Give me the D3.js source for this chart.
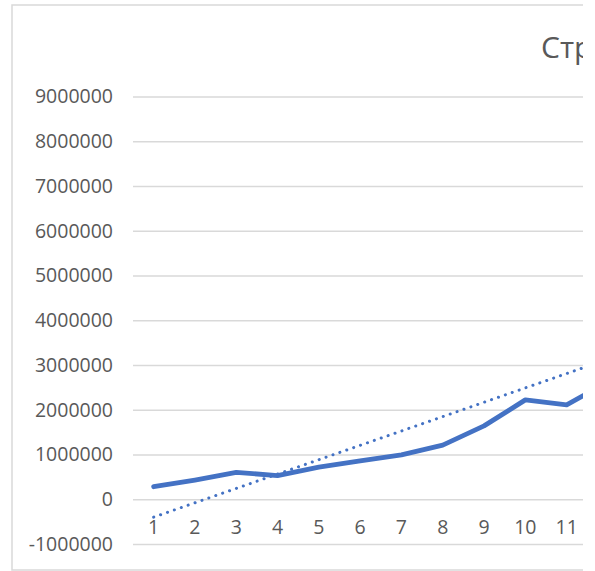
<!DOCTYPE html>
<html>
<head>
<meta charset="utf-8">
<script src="https://cdn.jsdelivr.net/npm/d3@7"></script>
<style>
  body { margin: 0; background: #fff; }
  text { font-family: "Open Sans", sans-serif; fill: #595959; }
</style>
</head>
<body>
<svg id="chart" width="595" height="571"></svg>
<script>
// categories and values (chart is cropped on the right)
var categories = ["1","2","3","4","5","6","7","8","9","10","11","12"];
var values = [280000, 430000, 600000, 530000, 720000, 860000, 990000, 1210000, 1640000, 2220000, 2110000, 2620000];
// linear trend, value at first and last category
var trendEnds = [-400000, 3130000];
var yTicks = [-1000000, 0, 1000000, 2000000, 3000000, 4000000, 5000000, 6000000, 7000000, 8000000, 9000000];
var titleText = "Стр";

var svg = d3.select("#chart"),
    clipRight = 583,
    plotLeft = 133,
    band = 41.3;

svg.append("clipPath").attr("id", "cut")
  .append("rect").attr("x", 0).attr("y", 0).attr("width", clipRight).attr("height", 571);

var g = svg.append("g").attr("clip-path", "url(#cut)");

// chart border
g.append("rect")
    .attr("x", 12).attr("y", 5)
    .attr("width", 900).attr("height", 565)
    .attr("fill", "none")
    .attr("stroke", "#d9d9d9")
    .attr("stroke-width", 1.5);

var x = d3.scaleBand()
    .domain(categories)
    .range([plotLeft, plotLeft + band * categories.length]);

var y = d3.scaleLinear()
    .domain([-1000000, 9000000])
    .range([544, 96.5]);

// y axis + gridlines
var yAxis = g.append("g")
    .attr("transform", "translate(" + plotLeft + ",0)")
    .call(d3.axisLeft(y).tickValues(yTicks).tickFormat(function(d) { return String(d); })
      .tickSizeInner(-(band * categories.length)).tickSizeOuter(0).tickPadding(20));
yAxis.select(".domain").remove();
yAxis.selectAll(".tick line").attr("stroke", "#d9d9d9").attr("stroke-width", 1.5);
yAxis.selectAll(".tick text").attr("font-size", 19.5).attr("fill", "#595959")
    .style("font-family", "'Open Sans', sans-serif");

// x axis labels at zero line
var xAxis = g.append("g")
    .attr("transform", "translate(0," + y(0) + ")")
    .call(d3.axisBottom(x).tickSize(0).tickPadding(21));
xAxis.select(".domain").remove();
xAxis.selectAll(".tick text").attr("font-size", 19.5).attr("fill", "#595959")
    .style("font-family", "'Open Sans', sans-serif");
// labels past the crop are not visible in the picture
xAxis.selectAll(".tick").filter(function(d) { return x(d) + x.bandwidth() / 2 > clipRight; }).remove();

// main line
var line = d3.line()
    .x(function(d, i) { return x(categories[i]) + x.bandwidth() / 2; })
    .y(function(d) { return y(d); });

g.append("path")
    .datum(values)
    .attr("d", line)
    .attr("fill", "none")
    .attr("stroke", "#4472c4")
    .attr("stroke-width", 4.8)
    .attr("stroke-linejoin", "round")
    .attr("stroke-linecap", "round");

// trend line (dotted)
g.append("line")
    .attr("x1", x(categories[0]) + x.bandwidth() / 2)
    .attr("y1", y(trendEnds[0]))
    .attr("x2", x(categories[categories.length - 1]) + x.bandwidth() / 2)
    .attr("y2", y(trendEnds[1]))
    .attr("stroke", "#4472c4")
    .attr("stroke-width", 3)
    .attr("stroke-linecap", "round")
    .attr("stroke-dasharray", "0.1 7.2");

// title (cut by the crop)
g.append("text")
    .attr("x", 541).attr("y", 58)
    .attr("font-size", 30)
    .text(titleText);
</script>
</body>
</html>
